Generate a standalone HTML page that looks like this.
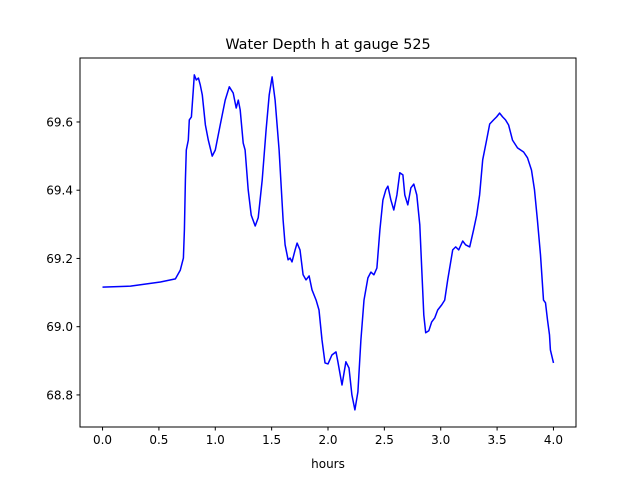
<!DOCTYPE html>
<html><head><meta charset="utf-8"><style>
body{margin:0;background:#fff;}
svg{display:block;font-family:"DejaVu Sans","Liberation Sans",sans-serif;}
</style></head><body>
<svg id="chart" width="640" height="480">
<rect x="0" y="0" width="640" height="480" fill="#fff"/>
<text x="328" y="49" text-anchor="middle" font-size="14.4">Water Depth h at gauge 525</text>
<text x="328" y="468" text-anchor="middle" font-size="12">hours</text>
<g id="ticks"></g>
<path id="line" fill="none" stroke="#0000ff" stroke-width="1.5" stroke-linejoin="round"/>
<rect x="80" y="58" width="496" height="369" fill="none" stroke="#000" stroke-width="1"/>
</svg>
<script>
const hours=[0,0.248,0.513,0.646,0.690,0.717,0.726,0.735,0.743,0.761,0.770,0.788,0.805,0.814,0.832,0.850,0.867,0.885,0.912,0.938,0.973,1.000,1.044,1.088,1.124,1.159,1.186,1.204,1.221,1.248,1.265,1.292,1.319,1.354,1.381,1.416,1.451,1.478,1.504,1.531,1.566,1.602,1.619,1.646,1.664,1.681,1.708,1.726,1.752,1.779,1.805,1.832,1.858,1.894,1.920,1.947,1.973,2.000,2.035,2.071,2.088,2.124,2.159,2.186,2.212,2.239,2.265,2.292,2.319,2.354,2.381,2.407,2.434,2.460,2.487,2.513,2.531,2.558,2.584,2.611,2.637,2.664,2.681,2.708,2.735,2.761,2.788,2.814,2.832,2.850,2.867,2.894,2.920,2.947,2.973,3.009,3.035,3.062,3.106,3.133,3.159,3.195,3.221,3.257,3.292,3.319,3.345,3.372,3.407,3.434,3.469,3.496,3.522,3.549,3.575,3.602,3.637,3.681,3.735,3.770,3.805,3.832,3.858,3.885,3.912,3.929,3.947,3.965,3.973,4.000];
const depth=[69.116,69.119,69.131,69.140,69.166,69.201,69.284,69.430,69.518,69.547,69.606,69.615,69.694,69.738,69.723,69.729,69.708,69.679,69.591,69.547,69.500,69.518,69.591,69.664,69.703,69.685,69.641,69.664,69.635,69.538,69.518,69.401,69.327,69.295,69.319,69.430,69.577,69.679,69.732,69.664,69.518,69.313,69.240,69.196,69.201,69.190,69.225,69.245,69.225,69.152,69.137,69.149,69.108,69.078,69.049,68.961,68.894,68.891,68.917,68.926,68.897,68.829,68.897,68.879,68.800,68.756,68.809,68.961,69.078,69.143,69.160,69.152,69.172,69.284,69.371,69.401,69.412,69.371,69.342,69.386,69.451,69.445,69.386,69.357,69.407,69.418,69.386,69.298,69.166,69.034,68.982,68.988,69.014,69.026,69.049,69.064,69.078,69.137,69.225,69.234,69.225,69.251,69.240,69.234,69.284,69.327,69.386,69.489,69.547,69.594,69.606,69.615,69.626,69.615,69.606,69.591,69.547,69.524,69.512,69.495,69.459,69.401,69.313,69.210,69.078,69.070,69.020,68.976,68.932,68.894];
const xTicks=[0,0.5,1,1.5,2,2.5,3,3.5,4];
const xTickLabels=["0.0","0.5","1.0","1.5","2.0","2.5","3.0","3.5","4.0"];
const yTicks=[68.8,69.0,69.2,69.4,69.6];
const yTickLabels=["68.8","69.0","69.2","69.4","69.6"];
const L=80,R=576,T=58,B=427,x0=-0.2,x1=4.2,y0=68.706,y1=69.7875;
const sx=v=>L+(v-x0)/(x1-x0)*(R-L);
const sy=v=>B-(v-y0)/(y1-y0)*(B-T);
const NS="http://www.w3.org/2000/svg";
const g=document.getElementById('ticks');
function mk(tag,attrs){const e=document.createElementNS(NS,tag);for(const k in attrs)e.setAttribute(k,attrs[k]);g.appendChild(e);return e;}
xTicks.forEach((t,i)=>{
 const l=mk('line',{x1:sx(t),x2:sx(t),y1:B,y2:B+3.5,stroke:'#000'});
 
 
 const tx=mk('text',{x:sx(t),y:B+17,'text-anchor':'middle','font-size':12});
 
 
 tx.textContent=xTickLabels[i];
});
yTicks.forEach((t,i)=>{
 const l=mk('line',{x1:L-3.5,x2:L,y1:sy(t),y2:sy(t),stroke:'#000'});
 
 
 const tx=mk('text',{x:L-7,y:sy(t)+4.5,'text-anchor':'end','font-size':12});
 
 
 tx.textContent=yTickLabels[i];
});
document.getElementById('line').setAttribute('d',hours.map((h,i)=>(i?'L':'M')+sx(h).toFixed(1)+','+sy(depth[i]).toFixed(1)).join(''));
</script>
</body></html>
